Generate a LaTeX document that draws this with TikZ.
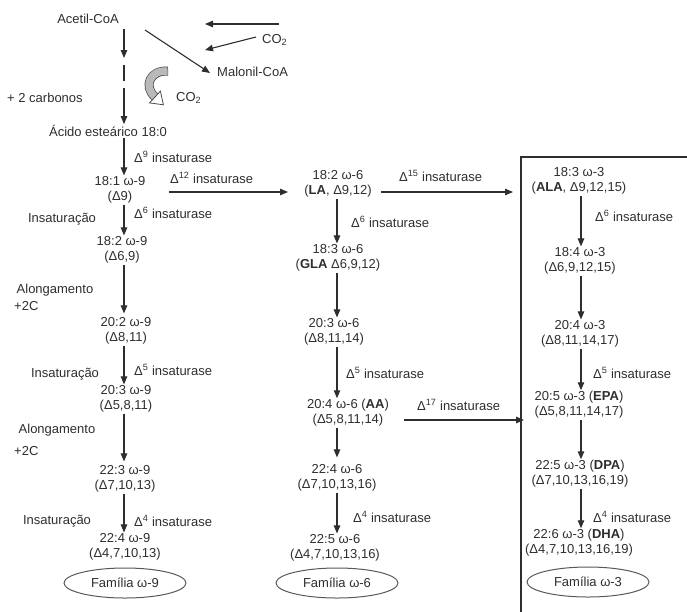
\documentclass[tikz,border=0pt]{standalone}
\usepackage{fontspec}
\setmainfont{Liberation Sans}
\usetikzlibrary{arrows.meta,calc,shapes.geometric}
\definecolor{ink}{HTML}{2E2E2E}
\begin{document}
\begin{tikzpicture}[x=1pt,y=-1pt,
  every node/.style={font=\fontsize{13}{15}\selectfont, text=ink, inner sep=1pt},
  mol/.style={align=center},
  lbl/.style={anchor=west},
  arr/.style={draw=ink, line width=1.1pt, -{Triangle[length=8pt,width=6.5pt]}},
  fam/.style={ellipse, draw=ink!80, line width=1pt, minimum width=122pt, minimum height=30pt, inner sep=0pt}]
\useasboundingbox (0,0) rectangle (687,611);
\begin{scope}
\clip (0,0) rectangle (687,611);
\draw[ink, line width=2pt] (521,640) -- (521,157) -- (700,157);
\end{scope}

% top part
\node (ac) at (88,19) {Acetil-CoA};
\node (st) at (108,131) {Ácido esteárico 18:0};
\node[lbl] (mal) at (216,72) {Malonil-CoA};
\node[lbl] (co2a) at (261,40) {CO\textsubscript{2}};
\node[lbl] (co2b) at (175,98) {CO\textsubscript{2}};
\node[lbl] (carb) at (6,98) {+ 2 carbonos};
\coordinate (colL) at (124,0);
\coordinate (c1) at (124,65);
\coordinate (c2) at (124,81);
\coordinate (c3) at (124,88);
\draw[arr] (ac.south -| colL) ++(0,4) -- (124,58);
\draw[ink, line width=1.1pt] (c1) -- (c2);
\draw[arr] (c3) -- (st.north -| colL);
\coordinate (m0) at (145,30);
\draw[arr] (m0) -- ([xshift=-6pt,yshift=-1pt]mal.west);
\coordinate (e1) at (279,24);
\coordinate (e1t) at (205,24);
\draw[arr] (e1) -- (e1t);
\coordinate (e2) at (256,37);
\coordinate (e2t) at (205,50);
\draw[arr] (e2) -- (e2t);
% curved arrow
\draw[gray!60!black, line width=9pt] (168,71) .. controls (150,70) and (143,86) .. (155,97);
\draw[gray!55, line width=7.5pt] (167.5,71) .. controls (150,70) and (143,86) .. (155,97);
\filldraw[fill=white, draw=gray!60!black, line width=0.8pt]
  (149.6,102.9) -- (160.4,91.1) -- (163.4,104.8) -- cycle;

% left column
\node[mol] (l1) at (120,190) {18:1 ω-9\\(Δ9)};
\node[mol] (l2) at (122,250) {18:2 ω-9\\(Δ6,9)};
\node[mol] (l3) at (126,331) {20:2 ω-9\\(Δ8,11)};
\node[mol] (l4) at (126,399) {20:3 ω-9\\(Δ5,8,11)};
\node[mol] (l5) at (125,479) {22:3 ω-9\\(Δ7,10,13)};
\node[mol] (l6) at (125,547) {22:4 ω-9\\(Δ4,7,10,13)};
\node[fam] (f9) at (125,583) {Família ω-9};
\draw[arr] (st.south -| colL) -- (l1.north -| colL);
\draw[arr] (l1.south -| colL) -- (l2.north -| colL);
\draw[arr] (l2.south -| colL) -- ([yshift=3pt]l3.north -| colL);
\draw[arr] (l3.south -| colL) -- (l4.north -| colL);
\draw[arr] (l4.south -| colL) -- ([yshift=3pt]l5.north -| colL);
\draw[arr] (l5.south -| colL) -- (l6.north -| colL);
\node[lbl] at (133,157) {Δ\textsuperscript{9} insaturase};
\node[lbl] at (169,178) {Δ\textsuperscript{12} insaturase};
\node[lbl] at (133,213) {Δ\textsuperscript{6} insaturase};
\node at (62,219) {Insaturação};
\node at (55,290) {Alongamento};
\node[lbl] at (13,306) {+2C};
\node[lbl] at (133,370) {Δ\textsuperscript{5} insaturase};
\node at (65,374) {Insaturação};
\node at (57,430) {Alongamento};
\node[lbl] at (13,451) {+2C};
\node at (57,521) {Insaturação};
\node[lbl] at (133,521) {Δ\textsuperscript{4} insaturase};

% middle column
\coordinate (colM) at (337,0);
\node[mol] (m1) at (338,184) {18:2 ω-6\\(\textbf{LA}, Δ9,12)};
\node[mol] (m2) at (338,258) {18:3 ω-6\\(\textbf{GLA} Δ6,9,12)};
\node[mol] (m3) at (334,332) {20:3 ω-6\\(Δ8,11,14)};
\node[mol] (m4) at (348,413) {20:4 ω-6 (\textbf{AA})\\(Δ5,8,11,14)};
\node[mol] (m5) at (337,478) {22:4 ω-6\\(Δ7,10,13,16)};
\node[mol] (m6) at (335,548) {22:5 ω-6\\(Δ4,7,10,13,16)};
\node[fam] (f6) at (337,583) {Família ω-6};
\draw[arr] (m1.south -| colM) -- (m2.north -| colM);
\draw[arr] (m2.south -| colM) -- (m3.north -| colM);
\draw[arr] (m3.south -| colM) -- (m4.north -| colM);
\draw[arr] (m4.south -| colM) -- ([yshift=6pt]m5.north -| colM);
\draw[arr] (m5.south -| colM) -- (m6.north -| colM);
\node[lbl] at (350,222) {Δ\textsuperscript{6} insaturase};
\node[lbl] at (345,373) {Δ\textsuperscript{5} insaturase};
\node[lbl] at (352,517) {Δ\textsuperscript{4} insaturase};
\node[lbl] at (398,176) {Δ\textsuperscript{15} insaturase};
\node[lbl] at (416,405) {Δ\textsuperscript{17} insaturase};
\coordinate (t12) at (288,192);
\draw[arr] ($(l1.east)+(22,2)$) -- (t12);

% right column
\coordinate (colR) at (581,0);
\node[mol] (r1) at (579,181) {18:3 ω-3\\(\textbf{ALA}, Δ9,12,15)};
\node[mol] (r2) at (580,261) {18:4 ω-3\\(Δ6,9,12,15)};
\node[mol] (r3) at (580,334) {20:4 ω-3\\(Δ8,11,14,17)};
\node[mol] (r4) at (579,405) {20:5 ω-3 (\textbf{EPA})\\(Δ5,8,11,14,17)};
\node[mol] (r5) at (580,474) {22:5 ω-3 (\textbf{DPA})\\(Δ7,10,13,16,19)};
\node[mol] (r6) at (579,543) {22:6 ω-3 (\textbf{DHA})\\(Δ4,7,10,13,16,19)};
\node[fam] (f3) at (588,582) {Família ω-3};
\draw[arr] (r1.south -| colR) -- (r2.north -| colR);
\draw[arr] (r2.south -| colR) -- (r3.north -| colR);
\draw[arr] (r3.south -| colR) -- (r4.north -| colR);
\draw[arr] (r4.south -| colR) -- (r5.north -| colR);
\draw[arr] (r5.south -| colR) -- (r6.north -| colR);
\node[lbl] at (594,216) {Δ\textsuperscript{6} insaturase};
\node[lbl] at (592,373) {Δ\textsuperscript{5} insaturase};
\node[lbl] at (592,517) {Δ\textsuperscript{4} insaturase};
\coordinate (t15) at (513,192);
\draw[arr] ($(m1.east |- 0,192)+(8,0)$) -- (t15);
\coordinate (boxin) at (524,420);
\draw[arr] ($(m4.east |- 0,420)+(14,0)$) -- (boxin);
\end{tikzpicture}
\end{document}
